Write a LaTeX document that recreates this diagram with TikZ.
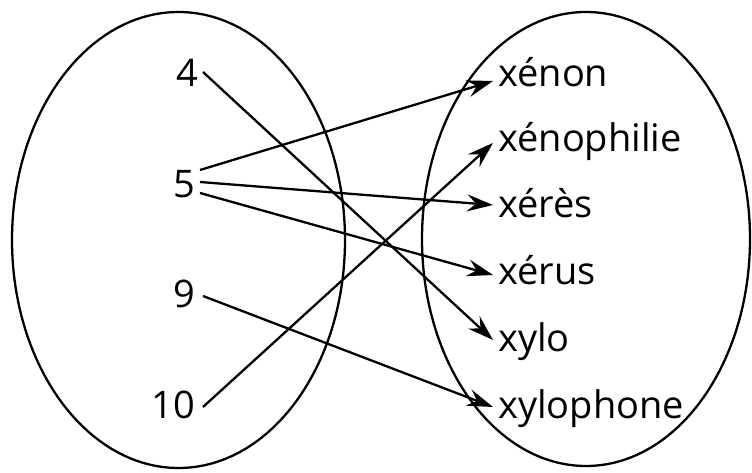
\documentclass[tikz,border=0pt]{standalone}
\usepackage{fontspec}
\setmainfont{Open Sans}
\usetikzlibrary{arrows.meta}
\begin{document}
\begin{tikzpicture}[x=1pt,y=1pt,
  setellipse/.style={draw, line width=2.3pt},
  lbl/.style={inner sep=0pt, font=\fontsize{38}{41}\selectfont},
  link/.style={line width=2.3pt, -{Stealth[length=26pt,width=17pt,inset=9pt]}}]
\useasboundingbox (0,0) rectangle (752,473);
% sets
\draw[setellipse] (178.5,233) ellipse [x radius=166.5, y radius=228];
\draw[setellipse] (586,234) ellipse [x radius=164, y radius=227];
% left elements
\node[lbl, anchor=base east] (n4) at (198,386) {4};
\node[lbl, anchor=base east] (n5) at (195,275) {5};
\node[lbl, anchor=base east] (n9) at (195,165) {9};
\node[lbl, anchor=base east] (n10) at (195,54) {10};
% right elements
\node[lbl, anchor=base west] (xenon) at (498,386) {xénon};
\node[lbl, anchor=base west] (xenophilie) at (498,321) {xénophilie};
\node[lbl, anchor=base west] (xeres) at (498,255) {xérès};
\node[lbl, anchor=base west] (xerus) at (498,188) {xérus};
\node[lbl, anchor=base west] (xylo) at (498,121) {xylo};
\node[lbl, anchor=base west] (xylophone) at (498,54) {xylophone};
% links
\draw[link] ([shift={(5,15)}]n4.base east) -- ([shift={(-5,12)}]xylo.base west);
\draw[link] ([shift={(5,28)}]n5.base east) -- ([shift={(-5,6)}]xenon.base west);
\draw[link] ([shift={(5,16)}]n5.base east) -- ([shift={(-5,13)}]xeres.base west);
\draw[link] ([shift={(5,5)}]n5.base east) -- ([shift={(-5,10)}]xerus.base west);
\draw[link] ([shift={(8,12)}]n9.base east) -- ([shift={(-5,12)}]xylophone.base west);
\draw[link] ([shift={(8,12)}]n10.base east) -- ([shift={(-5,9)}]xenophilie.base west);
\end{tikzpicture}
\end{document}
